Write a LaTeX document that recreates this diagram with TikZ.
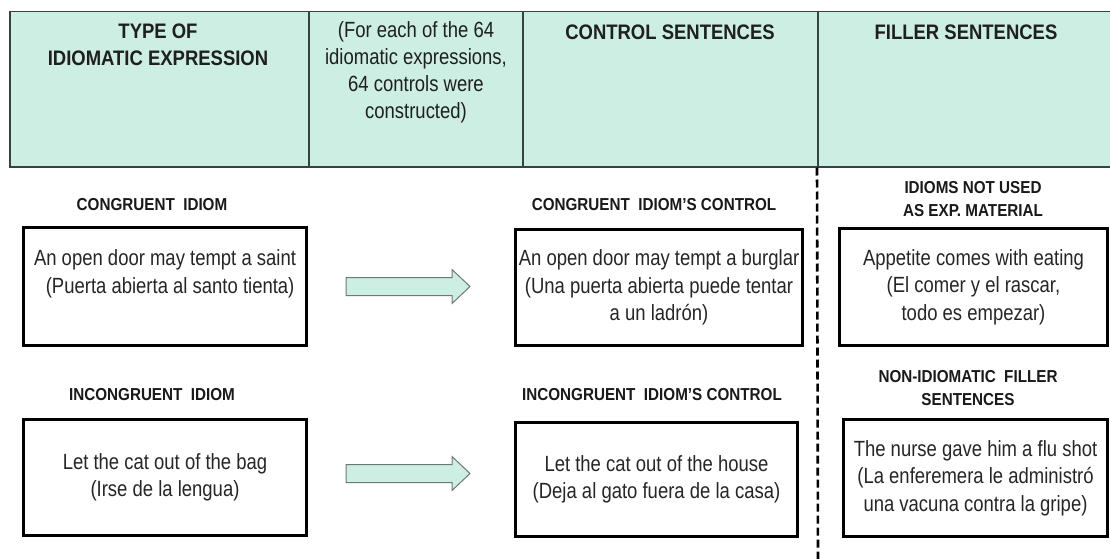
\documentclass[tikz,border=0pt]{standalone}
\usepackage{fontspec}
\setmainfont{Liberation Sans}
\newfontfamily\narrowf[FakeStretch=0.88]{Liberation Sans}
\newfontfamily\condf[FakeStretch=0.84]{Liberation Sans}
\usetikzlibrary{calc}
\definecolor{mint}{RGB}{205,239,227}
\definecolor{hdrline}{RGB}{55,66,66}
\definecolor{txtgray}{RGB}{38,38,38}
\definecolor{arrline}{RGB}{110,120,118}
\newcommand\hdrbold{\narrowf\bfseries\fontsize{21}{27}\selectfont}
\newcommand\hdrreg{\condf\fontsize{22}{27}\selectfont}
\newcommand\bodyf{\condf\fontsize{22}{27.5}\selectfont}
\newcommand\labf{\narrowf\bfseries\fontsize{17.3}{23.5}\selectfont}
\tikzset{
  hcell/.style={draw=hdrline, line width=1.5pt, fill=mint, anchor=north west,
    inner sep=0pt, minimum height=155},
  htxt/.style={align=center, inner sep=0pt, text=black!88},
  sbox/.style={draw=black, line width=3pt, anchor=north west, inner sep=1pt,
    align=center, font=\bodyf, text=txtgray},
  lab/.style={align=center, inner sep=0pt, font=\labf, text=black!90},
  blockarrow/.style={draw=arrline, line width=1pt, fill=mint},
  sepline/.style={draw=black, line width=2.6pt, dash pattern=on 8pt off 4pt}
}
\begin{document}
\begin{tikzpicture}[x=1pt,y=-1pt]
\clip (0,0) rectangle (1110,559);
\fill[white] (0,0) rectangle (1110,559);
% header cells
\node[hcell, minimum width=299] (h1) at (9,11) {};
\node[hcell, minimum width=214] (h2) at (308,11) {};
\node[hcell, minimum width=295] (h3) at (522,11) {};
\node[hcell, minimum width=300] (h4) at (817,11) {};
\node[htxt, font=\hdrbold] (t1) at (158,45) {TYPE OF\\IDIOMATIC EXPRESSION};
\node[htxt, font=\hdrreg] (t2) at (416,72) {(For each of the 64\\idiomatic expressions,\\64 controls were\\constructed)};
\node[htxt, font=\hdrbold] (t3) at (670,32) {CONTROL SENTENCES};
\node[htxt, font=\hdrbold] (t4) at (966,32) {FILLER SENTENCES};
% separator
\draw[sepline] (h4.south west) -- ++(1,393);
% row 1
\node[lab] (l1) at (152,205) {CONGRUENT\ \ IDIOM};
\node[sbox, minimum width=283, minimum height=118] (b1) at (22,226)
  {An open door may tempt a saint\\\ \ (Puerta abierta al santo tienta)\\[2pt]};
\node[lab] (l3) at (654,205) {CONGRUENT\ \ IDIOM’S CONTROL};
\node[sbox, minimum width=287, minimum height=116, inner sep=0pt] (b3) at (514,228)
  {An open door may tempt a burglar\\(Una puerta abierta puede tentar\\a un ladrón)};
\node[lab] (l5) at (973,199) {IDIOMS NOT\ USED\\AS EXP. MATERIAL};
\node[sbox, minimum width=268, minimum height=117] (b5) at (838,227)
  {Appetite comes with eating\\(El comer y el rascar,\\todo es empezar)};
% row 2
\node[lab] (l2) at (152,395) {INCONGRUENT\ \ IDIOM};
\node[sbox, minimum width=283, minimum height=116] (b2) at (22,418)
  {Let the cat out of the bag\\(Irse de la lengua)};
\node[lab] (l4) at (652,395) {INCONGRUENT\ \ IDIOM’S CONTROL};
\node[sbox, minimum width=282, minimum height=114] (b4) at (514,421)
  {Let the cat out of the house\\(Deja al gato fuera de la casa)};
\node[lab] (l6) at (968,388) {NON-IDIOMATIC\ \ FILLER\\SENTENCES};
\node[sbox, minimum width=264, minimum height=117] (b6) at (842,418)
  {The nurse gave him a flu shot\\(La enferemera le administró\\una vacuna contra la gripe)};
% block arrows
\draw[blockarrow] ($(b1.east)+(38,-9)$) -- ++(106,0) -- ++(0,-8) -- ++(18,17)
  -- ++(-18,17) -- ++(0,-8) -- ++(-106,0) -- cycle;
\draw[blockarrow] ($(b2.east)+(38,-13)$) -- ++(106,0) -- ++(0,-8) -- ++(18,17)
  -- ++(-18,17) -- ++(0,-8) -- ++(-106,0) -- cycle;
\end{tikzpicture}
\end{document}
